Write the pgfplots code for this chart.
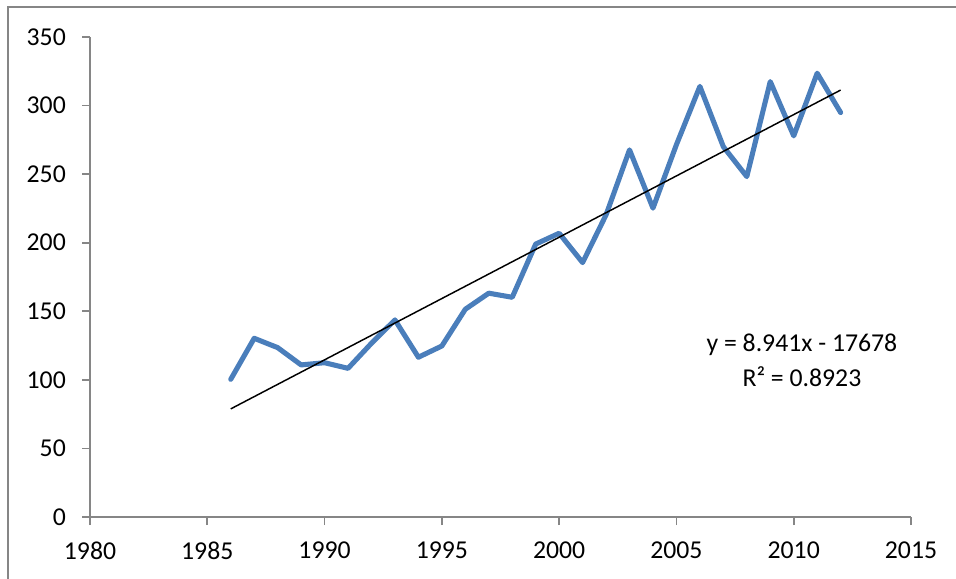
\documentclass[border=0pt]{standalone}
\usepackage{fontspec}
\setmainfont{Carlito}
\usepackage{pgfplots}
\pgfplotsset{compat=1.18}
\definecolor{serieblue}{HTML}{4A7EBB}
\definecolor{axisgray}{HTML}{868686}
\begin{document}
\fontsize{19.3}{23}\selectfont
\begin{tikzpicture}
\useasboundingbox (0,0) rectangle (717pt,433.5pt);
\draw[axisgray, line width=1.5pt] (6pt,-5pt) -- (6pt,428.25pt) -- (725pt,428.25pt);
\begin{axis}[
  at={(67.5pt,45.75pt)}, anchor=origin,
  scale only axis, width=615.75pt, height=360pt,
  xmin=1980, xmax=2015, ymin=0, ymax=350,
  axis x line*=bottom, axis y line*=left,
  axis line style={-, draw=axisgray, line width=1.2pt},
  xtick={1980,1985,...,2015}, ytick={0,50,...,350},
  tick align=outside, major tick length=6pt,
  tick style={draw=axisgray, line width=1.2pt},
  /pgf/number format/assume math mode=true,
  /pgf/number format/1000 sep={},
  ticklabel style={font=\fontsize{19.3}{23}\selectfont},
  yticklabel style={xshift=-5.5pt},
  xticklabel style={yshift=-6pt},
  clip=false,
]
\addplot[serieblue, line width=3.8pt, line join=round, line cap=round, mark=none] coordinates {
(1986,100.4) (1987,130.3) (1988,123.5) (1989,110.9) (1990,112.5) (1991,108.4)
(1992,126.7) (1993,143.7) (1994,116.5) (1995,124.7) (1996,151.5) (1997,163.2)
(1998,160.2) (1999,199) (2000,206.9) (2001,185.5) (2002,220.3) (2003,267.7)
(2004,225.2) (2005,271.5) (2006,314) (2007,270) (2008,248.2) (2009,317.5)
(2010,277.9) (2011,323.6) (2012,294.9)
};
\addplot[black, line width=1.1pt, mark=none] coordinates {(1986,78.83) (2012,311.3)};
\node at (axis cs:2010.35,125.5) {y = 8.941x - 17678};
\node at (axis cs:2010.35,102.1) {R² = 0.8923};
\end{axis}
\end{tikzpicture}
\end{document}
